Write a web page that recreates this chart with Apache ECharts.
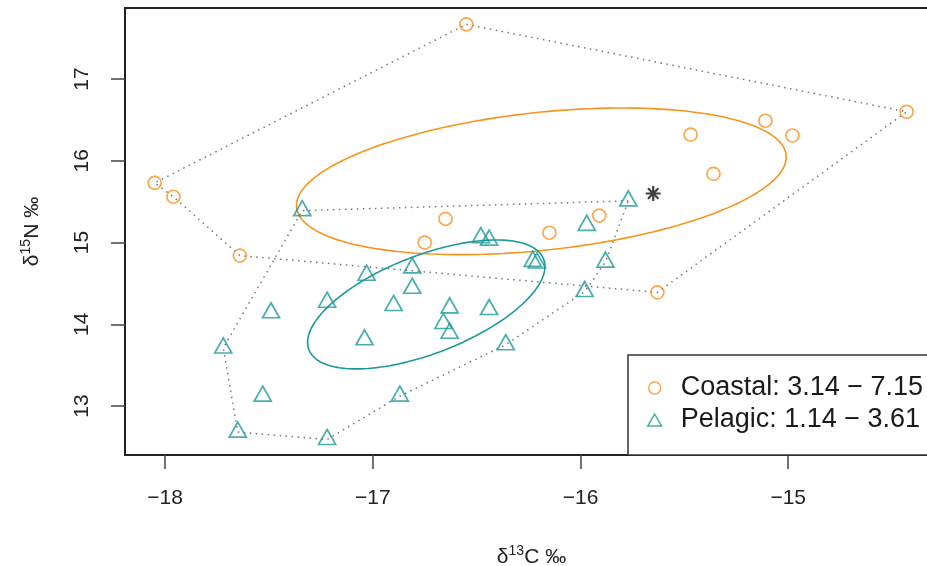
<!DOCTYPE html>
<html>
<head>
<meta charset="utf-8">
<script src="https://cdn.jsdelivr.net/npm/echarts@6.0.0/dist/echarts.min.js"></script>
<style>
  html, body { margin: 0; padding: 0; background: #fff; }
  #chart { width: 927px; height: 566px; }
</style>
</head>
<body>
<div id="chart"></div>
<script>
// isotope values
var coastalC = [-16.55, -18.05, -17.96, -16.65, -16.75, -14.43, -15.11, -14.98, -15.47, -15.36, -15.91, -16.15, -17.64, -15.63];
var coastalN = [17.67, 15.73, 15.56, 15.29, 15.00, 16.60, 16.49, 16.31, 16.32, 15.84, 15.33, 15.12, 14.84, 14.39];
var pelagicC = [-17.34, -17.03, -16.81, -16.81, -17.22, -16.90, -17.49, -17.04, -17.72, -16.48, -16.44, -16.63, -16.66,
                -16.63, -16.44, -16.23, -16.21, -15.88, -15.98, -16.36, -15.77, -15.97, -17.53, -16.87, -17.65, -17.22];
var pelagicN = [15.39, 14.60, 14.69, 14.44, 14.27, 14.23, 14.14, 13.81, 13.71, 15.06, 15.03, 14.20, 14.01,
                13.89, 14.18, 14.77, 14.75, 14.76, 14.40, 13.75, 15.51, 15.21, 13.12, 13.12, 12.68, 12.59];
// convex hull vertices (indexes into the arrays above)
var coastalHull = [0, 5, 13, 12, 2, 1, 0];
var pelagicHull = [20, 0, 8, 24, 25, 23, 19, 18, 17, 20];
var starPoint = [[-15.65, 15.60]];
var legendLabels = ['Coastal: 3.14 \u2212 7.15', 'Pelagic: 1.14 \u2212 3.61'];
var xTicks = [-18, -17, -16, -15];
var yTicks = [13, 14, 15, 16, 17];

var ORANGE = '#F7941D', TEAL = '#1C9A97', FONT = 'Liberation Sans, Arial, sans-serif';

function pairs(xs, ys) {
  return xs.map(function (x, i) { return [x, ys[i]]; });
}
function hull(xs, ys, idx) {
  return idx.map(function (i) { return [xs[i], ys[i]]; });
}
// standard ellipse, small sample corrected (SEAc)
function seaEllipse(xs, ys) {
  var n = xs.length, mx = 0, my = 0, sxx = 0, syy = 0, sxy = 0;
  for (var i = 0; i < n; i++) { mx += xs[i]; my += ys[i]; }
  mx /= n; my /= n;
  for (i = 0; i < n; i++) {
    var dx = xs[i] - mx, dy = ys[i] - my;
    sxx += dx * dx; syy += dy * dy; sxy += dx * dy;
  }
  var k = 1 / (n - 2);
  sxx *= k; syy *= k; sxy *= k;
  var l11 = Math.sqrt(sxx), l21 = sxy / l11, l22 = Math.sqrt(syy - l21 * l21);
  var pts = [];
  for (i = 0; i <= 160; i++) {
    var t = i / 160 * 2 * Math.PI;
    pts.push([mx + l11 * Math.cos(t), my + l21 * Math.cos(t) + l22 * Math.sin(t)]);
  }
  return pts;
}
function fmtMinus(v) { return String(v).replace('-', '\u2212'); }

var chart = echarts.init(document.getElementById('chart'));
var hullStyle = { color: '#777', width: 1.5, type: [1.5, 4.5] };
var richName = {
  a: { fontSize: 21, lineHeight: 26, color: '#222', fontFamily: FONT },
  s: { fontSize: 14, lineHeight: 14, verticalAlign: 'top', color: '#222', fontFamily: FONT }
};
var triPath = 'path://M5,0L10,8.66L0,8.66Z';

chart.setOption({
  animation: false,
  backgroundColor: '#fff',
  grid: { left: 125, top: 8, width: 813, height: 447, show: true, borderColor: '#222', borderWidth: 2,
          containLabel: false, outerBoundsMode: 'none' },
  xAxis: {
    type: 'value', min: -18.193, max: -14.279,
    axisLine: { show: false },
    axisTick: { length: 14, customValues: xTicks, lineStyle: { color: '#444', width: 1.5 } },
    axisLabel: { customValues: xTicks, margin: 33, fontSize: 21, color: '#222', fontFamily: FONT, formatter: fmtMinus },
    splitLine: { show: false },
    name: '{a|\u03b4}{s|13}{a|C \u2030}', nameLocation: 'middle', nameGap: 89,
    nameTextStyle: { rich: richName }
  },
  yAxis: {
    type: 'value', min: 12.40, max: 17.87,
    axisLine: { show: false },
    axisTick: { length: 14, customValues: yTicks, lineStyle: { color: '#444', width: 1.5 } },
    axisLabel: { customValues: yTicks, rotate: 90, margin: 32, fontSize: 21, color: '#222', fontFamily: FONT },
    splitLine: { show: false },
    name: '{a|\u03b4}{s|15}{a|N \u2030}', nameLocation: 'middle', nameGap: 80,
    nameTextStyle: { rich: richName }
  },
  legend: {
    orient: 'vertical', left: 628, top: 355,
    // icons are narrower than itemWidth, so the left padding covers the empty part
    padding: [18, 40, 20, 19],
    itemWidth: 42, itemHeight: 12, itemGap: 2,
    backgroundColor: '#fff', borderWidth: 0,
    selectedMode: false,
    textStyle: { fontSize: 27, lineHeight: 30, color: '#1a1a1a', fontFamily: FONT },
    data: [
      { name: 'Coastal', icon: 'circle', itemStyle: { color: 'rgba(0,0,0,0)', borderColor: ORANGE, borderWidth: 1.5 } },
      { name: 'Pelagic', icon: triPath, itemStyle: { color: 'rgba(0,0,0,0)', borderColor: TEAL, borderWidth: 1.5 } }
    ],
    formatter: function (name) { return name === 'Coastal' ? legendLabels[0] : legendLabels[1]; }
  },
  // legend frame runs off the right edge like the original
  graphic: [{
    type: 'rect', z: 100, silent: true,
    shape: { x: 628, y: 355, width: 400, height: 100 },
    style: { fill: 'none', stroke: '#333', lineWidth: 1.5 }
  }],
  series: [
    { name: 'coastal hull', type: 'line', data: hull(coastalC, coastalN, coastalHull), showSymbol: false, silent: true, lineStyle: hullStyle, z: 1 },
    { name: 'pelagic hull', type: 'line', data: hull(pelagicC, pelagicN, pelagicHull), showSymbol: false, silent: true, lineStyle: hullStyle, z: 1 },
    { name: 'coastal SEAc', type: 'line', data: seaEllipse(coastalC, coastalN), showSymbol: false, silent: true, lineStyle: { color: ORANGE, width: 1.6 }, z: 2 },
    { name: 'pelagic SEAc', type: 'line', data: seaEllipse(pelagicC, pelagicN), showSymbol: false, silent: true, lineStyle: { color: TEAL, width: 1.6 }, z: 2 },
    { name: 'Coastal', type: 'scatter', data: pairs(coastalC, coastalN), symbol: 'circle', symbolSize: 13,
      itemStyle: { color: 'rgba(0,0,0,0)', borderColor: ORANGE, borderWidth: 1.7 }, z: 3 },
    { name: 'Pelagic', type: 'scatter', data: pairs(pelagicC, pelagicN), symbol: 'triangle', symbolSize: [17, 15], symbolOffset: [0, -2.5],
      itemStyle: { color: 'rgba(0,0,0,0)', borderColor: TEAL, borderWidth: 1.7 }, z: 3 },
    { name: 'star', type: 'scatter', data: starPoint, symbol: 'path://M0,5L10,5M5,0L5,10M1.5,1.5L8.5,8.5M1.5,8.5L8.5,1.5', symbolSize: 15,
      itemStyle: { color: 'none', borderColor: '#111', borderWidth: 2.2 }, z: 3 }
  ]
});
</script>
</body>
</html>
